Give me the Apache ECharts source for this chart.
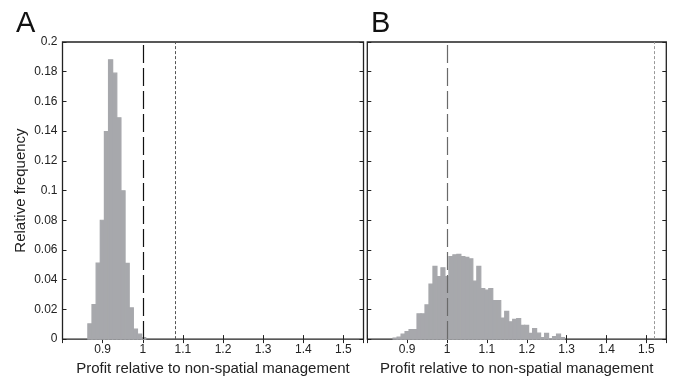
<!DOCTYPE html>
<html>
<head>
<meta charset="utf-8">
<script src="https://cdn.jsdelivr.net/npm/echarts@6/dist/echarts.min.js"></script>
<style>
  html, body { margin: 0; padding: 0; background: #fff; }
  #chart { width: 675px; height: 381px; }
</style>
</head>
<body>
<div id="chart"></div>
<script>
// histogram A: relative frequency per bin
const binStartA = 0.8632
const binWidthA = 0.0103
const freqA = [0.0102, 0.0233, 0.0511, 0.08, 0.1396, 0.188, 0.179, 0.149, 0.0998, 0.051, 0.021, 0.0067, 0.0033, 0.001]

// histogram B
const binStartB = 0.8647
const binWidthB = 0.01
const freqB = [0.0007, 0.0013, 0.0033, 0.005, 0.0064, 0.0064, 0.017, 0.017, 0.023, 0.037,
  0.049, 0.042, 0.048, 0.042, 0.0556, 0.0567, 0.057, 0.0556, 0.055, 0.054,
  0.039, 0.049, 0.034, 0.033, 0.034, 0.026, 0.026, 0.0142, 0.0187, 0.0116,
  0.0133, 0.0138, 0.0093, 0.0093, 0.0038, 0.0071, 0.004, 0.001, 0.0038, 0.0003,
  0.0016, 0.0033, 0.001]

// reference lines
const refLinesA = [1.0, 1.077]
const refLinesB = [1.0, 1.52]

// ticks
const xTicks = ['0.9', '1', '1.1', '1.2', '1.3', '1.4', '1.5']
const yTicks = ['0', '0.02', '0.04', '0.06', '0.08', '0.1', '0.12', '0.14', '0.16', '0.18', '0.2']

const xName = 'Profit relative to non-spatial management'
const yName = 'Relative frequency'

const font = 'Liberation Sans, Arial, sans-serif'
const frameColor = '#222'
const barColor = '#a7a8ac'

function bins(start, width, freq) {
  return freq.map((f, i) => [start + i * width, start + (i + 1) * width, f])
}

// one rect per bin, edges from the axis scale
function renderBar(params, api) {
  const p0 = api.coord([api.value(0), api.value(2)])
  const p1 = api.coord([api.value(1), 0])
  return {
    type: 'rect',
    shape: { x: p0[0], y: p0[1], width: p1[0] - p0[0], height: p1[1] - p0[1] },
    style: { fill: barColor, stroke: barColor, lineWidth: 1.2 }
  }
}

function xLabel(v) {
  const s = String(Math.round(v * 10) / 10)
  return xTicks.indexOf(s) >= 0 ? s : ''
}
function yLabel(v) {
  const s = String(Math.round(v * 100) / 100)
  return yTicks.indexOf(s) >= 0 ? s : ''
}

function xAxis(gridIndex, position, showLabel) {
  return {
    type: 'value', gridIndex: gridIndex, position: position,
    min: 0.8, max: 1.55, interval: 0.1,
    splitLine: { show: false },
    axisLine: { show: false },
    axisTick: { show: true, inside: true, length: 4, lineStyle: { color: frameColor, width: 1 } },
    axisLabel: { show: showLabel, formatter: xLabel, color: '#222', fontSize: 12, fontFamily: font, margin: 5 },
    name: showLabel ? xName : '',
    nameLocation: 'middle', nameGap: 20,
    nameTextStyle: { color: '#222', fontSize: 15, fontFamily: font }
  }
}

function yAxis(gridIndex, position, showLabel, name) {
  return {
    type: 'value', gridIndex: gridIndex, position: position,
    min: 0, max: 0.2, interval: 0.02,
    splitLine: { show: false },
    axisLine: { show: false },
    axisTick: { show: true, inside: true, length: 4, lineStyle: { color: frameColor, width: 1 } },
    axisLabel: { show: showLabel, formatter: yLabel, color: '#222', fontSize: 12, fontFamily: font, margin: 5 },
    name: name ? yName : '',
    nameLocation: 'middle', nameGap: 34,
    nameTextStyle: { color: '#222', fontSize: 15, fontFamily: font }
  }
}

function refLine(values, styles) {
  return {
    silent: true,
    symbol: 'none',
    label: { show: false },
    data: values.map((v, i) => ({ xAxis: v, lineStyle: styles[i] }))
  }
}

const chart = echarts.init(document.getElementById('chart'), null, { renderer: 'canvas' })
chart.setOption({
  animation: false,
  title: [
    { text: 'A', left: 11, top: 4, textStyle: { fontSize: 29, fontWeight: 'normal', color: '#111', fontFamily: font } },
    { text: 'B', left: 366, top: 4, textStyle: { fontSize: 29, fontWeight: 'normal', color: '#111', fontFamily: font } }
  ],
  grid: [
    { left: 62.5, top: 42, width: 301, height: 299, show: true, borderColor: frameColor, borderWidth: 1.3 },
    { left: 367.3, top: 42, width: 299, height: 299, show: true, borderColor: frameColor, borderWidth: 1.3 }
  ],
  xAxis: [
    xAxis(0, 'bottom', true),
    xAxis(0, 'top', false),
    xAxis(1, 'bottom', true),
    xAxis(1, 'top', false)
  ],
  yAxis: [
    yAxis(0, 'left', true, true),
    yAxis(0, 'right', false, false),
    yAxis(1, 'left', false, false),
    yAxis(1, 'right', false, false)
  ],
  series: [
    {
      type: 'custom', xAxisIndex: 0, yAxisIndex: 0,
      renderItem: renderBar,
      encode: { x: [0, 1], y: 2 },
      data: bins(binStartA, binWidthA, freqA),
      markLine: refLine(refLinesA, [
        { type: [18, 5], color: '#111', width: 1.2 },
        { type: [3, 2], color: '#555', width: 1 }
      ])
    },
    {
      type: 'custom', xAxisIndex: 2, yAxisIndex: 2,
      renderItem: renderBar,
      encode: { x: [0, 1], y: 2 },
      data: bins(binStartB, binWidthB, freqB),
      markLine: refLine(refLinesB, [
        { type: [18, 5], color: '#6a6a6a', width: 1.2 },
        { type: [3, 2], color: '#999', width: 1 }
      ])
    }
  ]
})
</script>
</body>
</html>
